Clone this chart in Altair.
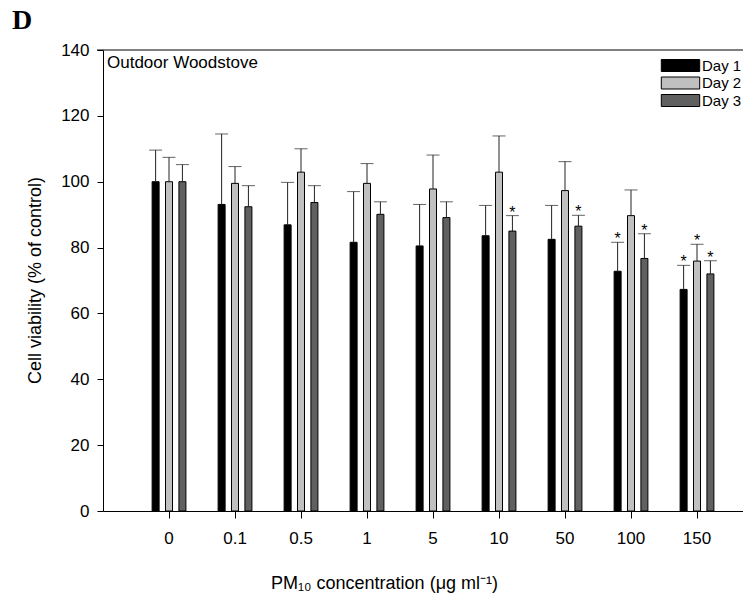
import altair as alt
import pandas as pd

concentrations = ["0", "0.1", "0.5", "1", "5", "10", "50", "100", "150"]
days = ["Day 1", "Day 2", "Day 3"]

day1_mean = [100.0, 93.1, 86.9, 81.6, 80.5, 83.6, 82.5, 72.8, 67.3]
day1_err = [9.6, 21.4, 12.9, 15.4, 12.6, 9.2, 10.3, 8.8, 7.3]
day1_sig = [False, False, False, False, False, False, False, True, True]

day2_mean = [100.0, 99.5, 102.9, 99.5, 97.8, 102.9, 97.3, 89.7, 75.9]
day2_err = [7.4, 5.1, 7.1, 6.0, 10.3, 11.0, 8.8, 7.8, 5.1]
day2_sig = [False, False, False, False, False, False, False, False, True]

day3_mean = [100.0, 92.4, 93.7, 90.1, 89.1, 85.0, 86.5, 76.7, 72.0]
day3_err = [5.2, 6.4, 5.1, 3.8, 4.8, 4.7, 3.3, 7.5, 4.0]
day3_sig = [False, False, False, False, False, True, True, True, True]

panel_label = "D"
inset_label = "Outdoor Woodstove"

rows = []
for day, means, errs, sigs in [
    ("Day 1", day1_mean, day1_err, day1_sig),
    ("Day 2", day2_mean, day2_err, day2_sig),
    ("Day 3", day3_mean, day3_err, day3_sig),
]:
    for c, m, e, s in zip(concentrations, means, errs, sigs):
        rows.append({"conc": c, "day": day, "mean": m, "upper": m + e,
                     "star": "*" if s else ""})
df = pd.DataFrame(rows)
one = pd.DataFrame({"panel": [panel_label], "inset": [inset_label]})

W, H = 640, 461
FONT = "Liberation Sans"

x_enc = alt.X("conc:N", sort=concentrations,
              scale=alt.Scale(paddingInner=0.488, paddingOuter=0.5925, align=0.628),
              axis=alt.Axis(title="PM₁₀ concentration (μg ml⁻¹)", labelAngle=0,
                            tickSize=7, labelPadding=12, labelFontSize=17,
                            titleFontSize=18, titleFontWeight="normal",
                            titleX=281, titleY=72, titleAlign="center",
                            titleBaseline="middle", domainColor="black",
                            tickColor="black", labelColor="black", titleColor="black",
                            labelFont=FONT, titleFont=FONT))
xo_enc = alt.XOffset("day:N", sort=days,
                     scale=alt.Scale(paddingInner=0.478, paddingOuter=0))

y_scale = alt.Scale(domain=[0, 140], nice=False)

bars = alt.Chart(df).mark_bar(stroke="black", strokeWidth=1).encode(
    x=x_enc,
    xOffset=xo_enc,
    y=alt.Y("mean:Q", scale=y_scale,
            axis=alt.Axis(title="Cell viability (% of control)", values=list(range(0, 141, 20)),
                          tickSize=6, labelPadding=8, labelFontSize=17, titleFontSize=18,
                          titleFontWeight="normal", titleX=-68, titleY=230,
                          titleAlign="center", titleBaseline="middle", titleAngle=-90,
                          domainColor="black", tickColor="black", labelColor="black",
                          titleColor="black", grid=False, labelFont=FONT, titleFont=FONT)),
    fill=alt.Fill("day:N", sort=days,
                  scale=alt.Scale(domain=days, range=["#000000", "#c0c0c0", "#606060"]),
                  legend=alt.Legend(title=None, orient="none", legendX=570, legendY=8,
                                    symbolType="M-3.2,-1L3.2,-1L3.2,1L-3.2,1Z",
                                    symbolSize=144, symbolStrokeColor="black",
                                    symbolStrokeWidth=1, labelFontSize=15, labelFont=FONT,
                                    labelColor="black", rowPadding=0.5, padding=0,
                                    labelOffset=14)),
)

err = alt.Chart(df).mark_rule(color="#222222", strokeWidth=1).encode(
    x=alt.X("conc:N", sort=concentrations), xOffset=xo_enc,
    y=alt.Y("mean:Q", scale=y_scale), y2="upper:Q")

caps = alt.Chart(df).mark_tick(color="#222222", thickness=1, size=13, orient="horizontal").encode(
    x=alt.X("conc:N", sort=concentrations), xOffset=xo_enc,
    y=alt.Y("upper:Q", scale=y_scale))

stars = alt.Chart(df).mark_text(fontSize=16, font=FONT, color="black", baseline="middle",
                                dy=-3).encode(
    x=alt.X("conc:N", sort=concentrations), xOffset=xo_enc,
    y=alt.Y("upper:Q", scale=y_scale), text="star:N")

top_line = alt.Chart(one).mark_rule(color="black", strokeWidth=1).encode(
    x=alt.value(-6), x2=alt.value(W), y=alt.value(0))

note = alt.Chart(one).mark_text(fontSize=17, font=FONT, align="left",
                                baseline="middle", color="black").encode(
    x=alt.value(4), y=alt.value(13), text="inset:N")

panel = alt.Chart(one).mark_text(fontSize=28, font="Liberation Serif", fontWeight="bold",
                                 align="left", baseline="alphabetic", color="black").encode(
    x=alt.value(-91), y=alt.value(-21), text="panel:N")

chart = alt.layer(bars, err, caps, stars, top_line, note, panel).properties(
    width=W, height=H,
    autosize=alt.AutoSizeParams(type="none"),
    padding={"left": 95, "top": 42, "right": 0, "bottom": 84},
).configure_view(stroke=None).configure_axis(domainWidth=1, tickWidth=1)

chart.save("out.html", embed_options={"renderer": "svg", "actions": False})
